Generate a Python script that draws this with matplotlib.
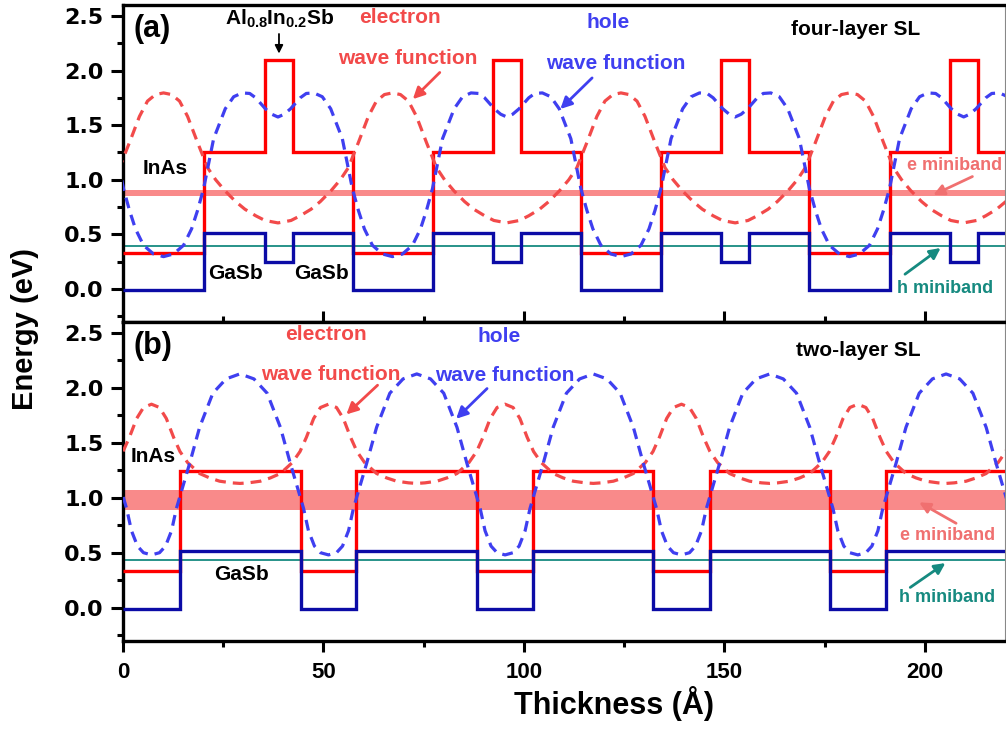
import numpy as np
from matplotlib import pyplot as plt
from matplotlib.ticker import MultipleLocator

plt.rcParams['font.family'] = ['Liberation Sans', 'DejaVu Sans']
plt.rcParams['font.weight'] = 'bold'
plt.rcParams['mathtext.fontset'] = 'custom'
plt.rcParams['mathtext.rm'] = 'Liberation Sans:bold'
plt.rcParams['mathtext.it'] = 'Liberation Sans:bold'
plt.rcParams['mathtext.bf'] = 'Liberation Sans:bold'

# ---- (a) four-layer SL : InAs / GaSb / Al0.8In0.2Sb / GaSb ----
top_edges = [0, 20.2, 35.4, 42.3, 57.3, 77.2, 92.3, 99.3, 114.2, 134.2,
             149.2, 156.2, 171.2, 191.2, 206.2, 213.2, 220]
top_cb = [0.33, 1.25, 2.10, 1.25] * 4
top_vb = [-0.01, 0.51, 0.25, 0.51] * 4
top_eband = (0.85, 0.905)
top_hband = 0.392

# wave functions: half period profile, distance from InAs well center
top_centers = [10.1, 67.2, 124.2, 181.2, 238.2]
top_d_e = [0, 2, 4, 6, 8.5, 11, 13, 15.3, 18, 20.3, 23, 25.3, 28.5]
top_wf_e = [1.795, 1.78, 1.72, 1.58, 1.34, 1.11, 1.00, 0.90, 0.80, 0.73, 0.67, 0.627, 0.605]
top_d_h = [0, 2.5, 5, 7, 8.5, 10, 12.5, 15.4, 17.5, 19.6, 21.5, 23, 25.4, 27, 28.5]
top_wf_h = [0.296, 0.32, 0.40, 0.55, 0.72, 0.92, 1.376, 1.65, 1.76, 1.795, 1.79, 1.75, 1.65, 1.60, 1.575]

# ---- (b) two-layer SL : InAs / GaSb ----
bot_edges = [0, 14.2, 44.3, 58.2, 88.3, 102.3, 132.3, 146.3, 176.3, 190.3, 220]
bot_cb = [0.33, 1.24] * 5
bot_vb = [-0.01, 0.52] * 5
bot_eband = (0.89, 1.07)
bot_hband = 0.436

bot_centers = [7.1, 51.25, 95.3, 139.3, 183.3, 227.3]
bot_d_e = [0, 2, 3.7, 5.5, 7.1, 9, 12, 14.5, 17, 20, 22]
bot_wf_e = [1.85, 1.82, 1.72, 1.55, 1.42, 1.32, 1.22, 1.18, 1.15, 1.135, 1.13]
bot_d_h = [0, 2, 3.5, 5, 6.2, 7.4, 9.5, 12, 15.3, 18.6, 22]
bot_wf_h = [0.48, 0.50, 0.56, 0.70, 0.90, 1.05, 1.31, 1.64, 1.95, 2.08, 2.125]

RED = '#ff0000'
NAVY = '#0b0ba6'
RED_WF = '#f24a4a'
BLUE_WF = '#3f3ff0'
TEAL = '#168a80'
PINK = '#f98a8a'
EMINI = '#f07070'


def wave(centers, d, v):
    d = np.array(d)
    v = np.array(v)
    xs, ys = [], []
    for c in centers:
        xs.append(np.concatenate([c - d[::-1], c + d[1:]]))
        ys.append(np.concatenate([v[::-1], v[1:]]))
    return np.concatenate(xs), np.concatenate(ys)


fig = plt.figure(figsize=(10.06, 7.35), dpi=100)
ax1 = fig.add_axes([0.1223, 0.5623, 0.8767, 0.4309])
ax2 = fig.add_axes([0.1223, 0.1283, 0.8767, 0.4340])

panels = [
    (ax1, top_edges, top_cb, top_vb, top_eband, top_hband,
     top_centers, top_d_e, top_wf_e, top_d_h, top_wf_h),
    (ax2, bot_edges, bot_cb, bot_vb, bot_eband, bot_hband,
     bot_centers, bot_d_e, bot_wf_e, bot_d_h, bot_wf_h),
]

for ax, edges, cb, vb, eband, hband, cen, de, we, dh, wh in panels:
    ax.axhspan(eband[0], eband[1], color=PINK, lw=0, zorder=1)
    ax.axhline(hband, color=TEAL, lw=1.3, zorder=2)
    ax.stairs(cb, edges, baseline=None, color=RED, lw=2.4, zorder=3)
    ax.stairs(vb, edges, baseline=None, color=NAVY, lw=2.4, zorder=3)
    x, y = wave(cen, de, we)
    ax.plot(x, y, color=RED_WF, lw=2.3, ls=(0, (3.4, 2.2)), zorder=4)
    x, y = wave(cen, dh, wh)
    ax.plot(x, y, color=BLUE_WF, lw=2.3, ls=(0, (3.4, 2.2)), zorder=4)

    ax.set_xlim(0, 220)
    ax.set_ylim(-0.3, 2.6)
    ax.yaxis.set_major_locator(MultipleLocator(0.5))
    ax.yaxis.set_minor_locator(MultipleLocator(0.25))
    ax.xaxis.set_major_locator(MultipleLocator(50))
    ax.xaxis.set_minor_locator(MultipleLocator(25))
    ax.tick_params(axis='y', which='major', direction='out', length=9, width=2.2,
                   labelsize=16, pad=5)
    ax.tick_params(axis='y', which='minor', direction='out', length=4.5, width=2.2)
    ax.spines['left'].set_linewidth(2.4)
    ax.spines['right'].set_linewidth(0.8)
    ax.spines['right'].set_color('#888888')
    for lab in ax.get_yticklabels():
        lab.set_fontweight('bold')
        lab.set_family('DejaVu Sans')

# top panel: ticks pointing in at the shared boundary, no x labels
ax1.spines['top'].set_linewidth(2.4)
ax1.spines['bottom'].set_linewidth(2.4)
ax1.tick_params(axis='x', which='major', direction='in', length=8, width=2.2,
                labelbottom=False)
ax1.tick_params(axis='x', which='minor', direction='in', length=4.5, width=2.2)

ax2.spines['top'].set_linewidth(2.4)
ax2.spines['bottom'].set_linewidth(2.4)
ax2.tick_params(axis='x', which='major', direction='out', length=8, width=2.2,
                labelsize=16, pad=7)
ax2.tick_params(axis='x', which='minor', direction='out', length=4.5, width=2.2)
for lab in ax2.get_xticklabels():
    lab.set_fontweight('bold')

ax2.set_xlabel('Thickness (Å)', fontsize=22, fontweight='bold')
ax2.xaxis.set_label_coords(0.557, -0.142)
fig.text(0.025, 0.553, 'Energy (eV)', rotation=90, fontsize=21, fontweight='bold',
         ha='center', va='center')

# ---- annotations (a) ----
ax1.text(2.5, 2.38, '(a)', fontsize=22, fontweight='bold', va='center')
ax1.text(39.2, 2.47, r'Al$_{0.8}$In$_{0.2}$Sb', fontsize=15, ha='center', va='center')
ax1.annotate('', xy=(38.9, 2.13), xytext=(38.9, 2.36),
             arrowprops=dict(arrowstyle='-|>', color='black', lw=1.3, mutation_scale=12))
ax1.text(69, 2.49, 'electron', color=RED_WF, fontsize=15, ha='center', va='center')
ax1.text(71, 2.11, 'wave function', color=RED_WF, fontsize=15, ha='center', va='center')
ax1.annotate('', xy=(71.8, 1.72), xytext=(79.5, 2.0),
             arrowprops=dict(arrowstyle='-|>', color=RED_WF, lw=2, mutation_scale=17))
ax1.text(121, 2.44, 'hole', color=BLUE_WF, fontsize=15, ha='center', va='center')
ax1.text(122.8, 2.06, 'wave function', color=BLUE_WF, fontsize=15, ha='center', va='center')
ax1.annotate('', xy=(108.6, 1.63), xytext=(117.5, 1.95),
             arrowprops=dict(arrowstyle='-|>', color=BLUE_WF, lw=2, mutation_scale=17))
ax1.text(182.8, 2.38, 'four-layer SL', fontsize=15, ha='center', va='center')
ax1.text(10.6, 1.10, 'InAs', fontsize=15, ha='center', va='center')
ax1.text(28.0, 0.14, 'GaSb', fontsize=15, ha='center', va='center')
ax1.text(49.4, 0.14, 'GaSb', fontsize=15, ha='center', va='center')
ax1.text(207.5, 1.13, 'e miniband', color=EMINI, fontsize=13, ha='center', va='center')
ax1.annotate('', xy=(201.5, 0.85), xytext=(212.5, 1.04),
             arrowprops=dict(arrowstyle='-|>', color=EMINI, lw=2, mutation_scale=16))
ax1.text(205.0, 0.0, 'h miniband', color=TEAL, fontsize=13, ha='center', va='center')
ax1.annotate('', xy=(204.5, 0.39), xytext=(194.5, 0.12),
             arrowprops=dict(arrowstyle='-|>', color=TEAL, lw=2, mutation_scale=16))

# ---- annotations (b) ----
ax2.text(2.5, 2.38, '(b)', fontsize=22, fontweight='bold', va='center')
ax2.text(50.7, 2.48, 'electron', color=RED_WF, fontsize=15, ha='center', va='center')
ax2.text(93.8, 2.47, 'hole', color=BLUE_WF, fontsize=15, ha='center', va='center')
ax2.text(51.9, 2.12, 'wave function', color=RED_WF, fontsize=15, ha='center', va='center')
ax2.annotate('', xy=(55.2, 1.74), xytext=(64.0, 2.04),
             arrowprops=dict(arrowstyle='-|>', color=RED_WF, lw=2, mutation_scale=17))
ax2.text(95.3, 2.11, 'wave function', color=BLUE_WF, fontsize=15, ha='center', va='center')
ax2.annotate('', xy=(82.6, 1.70), xytext=(91.3, 2.01),
             arrowprops=dict(arrowstyle='-|>', color=BLUE_WF, lw=2, mutation_scale=17))
ax2.text(183.3, 2.34, 'two-layer SL', fontsize=15, ha='center', va='center')
ax2.text(7.5, 1.375, 'InAs', fontsize=15, ha='center', va='center')
ax2.text(29.5, 0.30, 'GaSb', fontsize=15, ha='center', va='center')
ax2.text(205.7, 0.655, 'e miniband', color=EMINI, fontsize=13, ha='center', va='center')
ax2.annotate('', xy=(198.0, 0.97), xytext=(208.4, 0.755),
             arrowprops=dict(arrowstyle='-|>', color=EMINI, lw=2, mutation_scale=16))
ax2.text(205.5, 0.09, 'h miniband', color=TEAL, fontsize=13, ha='center', va='center')
ax2.annotate('', xy=(205.7, 0.42), xytext=(195.8, 0.17),
             arrowprops=dict(arrowstyle='-|>', color=TEAL, lw=2, mutation_scale=16))

plt.savefig('out.png', dpi=100)
